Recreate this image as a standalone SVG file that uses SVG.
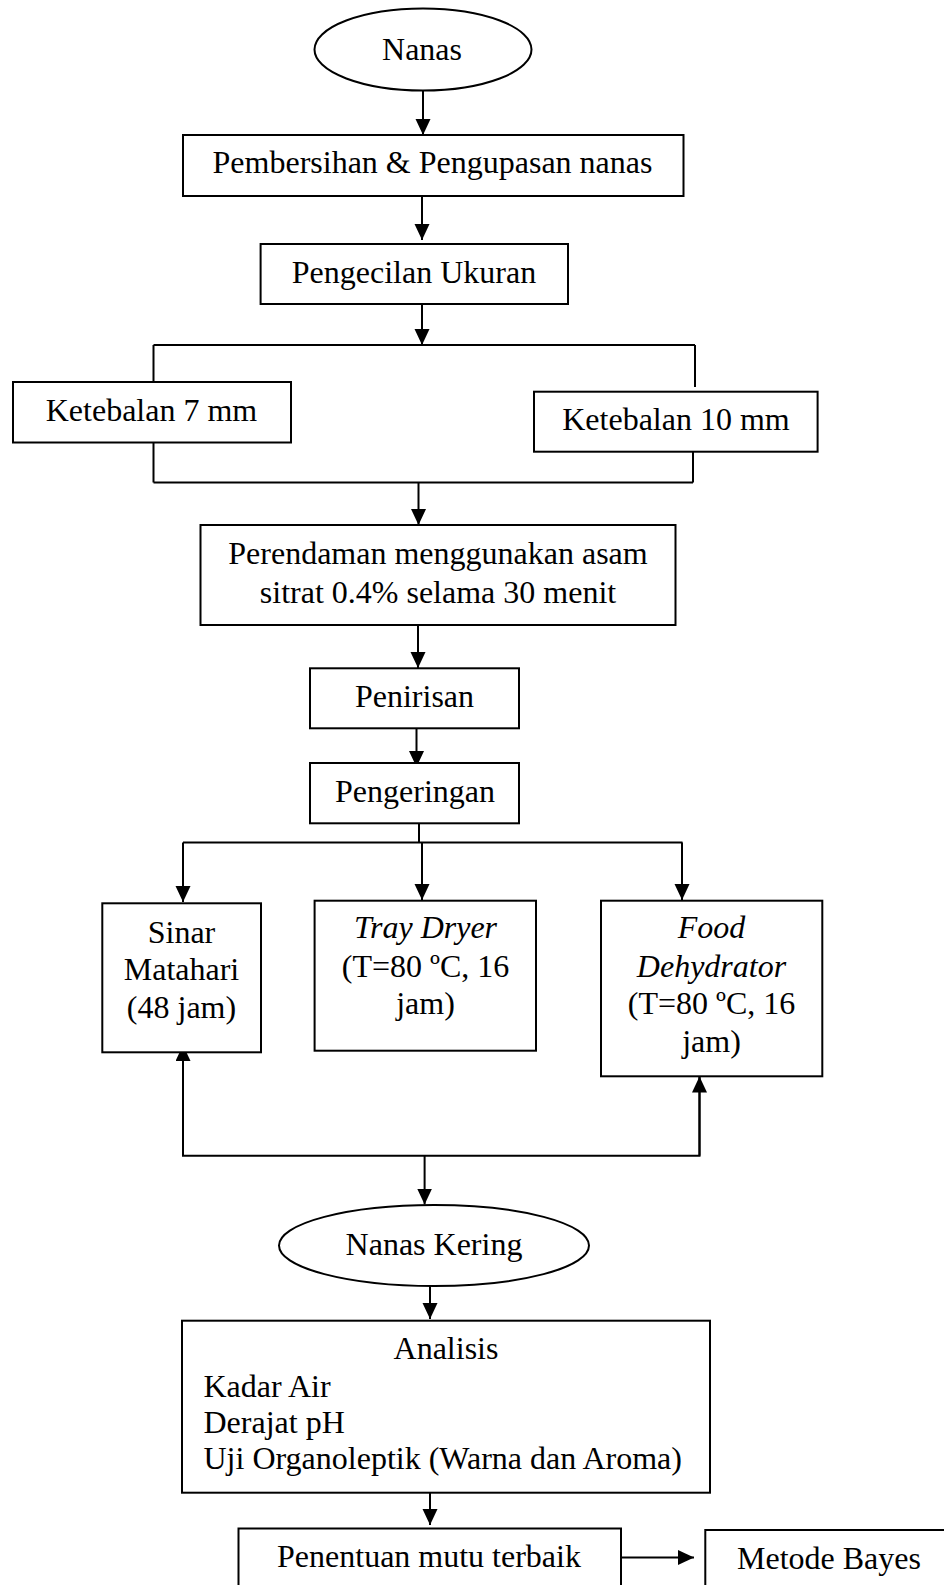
<svg xmlns="http://www.w3.org/2000/svg" width="944" height="1585" viewBox="0 0 944 1585">
<style>
.n{fill:#fff;stroke:#000;stroke-width:2}
.t{font-family:"Liberation Serif","Times New Roman",serif;font-size:32px;fill:#000}
.m{text-anchor:middle}
.i{font-style:italic}
.c line,.c polyline{stroke:#000;stroke-width:2;fill:none}
</style>
<defs>
<marker id="ah" markerWidth="16" markerHeight="16" refX="16" refY="7.5" orient="auto" markerUnits="userSpaceOnUse">
<path d="M0,0 L16,7.5 L0,15 z" fill="#000"/>
</marker>
</defs>
<rect width="944" height="1585" fill="#fff"/>
<g class="c" id="connectors">
<line x1="423" y1="90.5" x2="423" y2="135" marker-end="url(#ah)"/>
<line x1="422" y1="196" x2="422" y2="240" marker-end="url(#ah)"/>
<line x1="422" y1="304" x2="422" y2="345" marker-end="url(#ah)"/>
<line x1="153.5" y1="345" x2="695" y2="345"/>
<line x1="153.5" y1="345" x2="153.5" y2="382"/>
<line x1="695" y1="345" x2="695" y2="387"/>
<line x1="153.5" y1="442.5" x2="153.5" y2="482.5"/>
<line x1="693" y1="450" x2="693" y2="482.5"/>
<line x1="153.5" y1="482.5" x2="693" y2="482.5"/>
<line x1="418.5" y1="482.5" x2="418.5" y2="525" marker-end="url(#ah)"/>
<line x1="418" y1="625" x2="418" y2="668" marker-end="url(#ah)"/>
<line x1="416.5" y1="728.3" x2="416.5" y2="767" marker-end="url(#ah)"/>
<line x1="419" y1="823.3" x2="419" y2="842.5"/>
<line x1="183" y1="842.5" x2="682.5" y2="842.5"/>
<line x1="183" y1="842.5" x2="183" y2="902" marker-end="url(#ah)"/>
<line x1="422" y1="842.5" x2="422" y2="900" marker-end="url(#ah)"/>
<line x1="682" y1="842.5" x2="682" y2="900" marker-end="url(#ah)"/>
<polyline points="183,1045 183,1155.7 699.5,1155.7 699.5,1076.5"/>
<line x1="183" y1="1155.7" x2="183" y2="1045" marker-end="url(#ah)"/>
<line x1="699.5" y1="1155.7" x2="699.5" y2="1076.5" marker-end="url(#ah)"/>
<line x1="424.6" y1="1155.7" x2="424.6" y2="1204.5" marker-end="url(#ah)"/>
<line x1="430" y1="1286" x2="430" y2="1319" marker-end="url(#ah)"/>
<line x1="430" y1="1492.7" x2="430" y2="1525" marker-end="url(#ah)"/>
<line x1="617" y1="1557.5" x2="694" y2="1557.5" marker-end="url(#ah)"/>
</g>
<g id="nanas">
<ellipse class="n" cx="423" cy="49.5" rx="108.5" ry="41"/>
<text class="t m" x="422" y="60">Nanas</text>
</g>
<g id="pembersihan">
<rect class="n" x="183" y="135" width="500.5" height="61"/>
<text class="t m" x="432.5" y="173">Pembersihan &amp; Pengupasan nanas</text>
</g>
<g id="pengecilan">
<rect class="n" x="260.6" y="244" width="307.4" height="60"/>
<text class="t m" x="414" y="283">Pengecilan Ukuran</text>
</g>
<g id="ketebalan7">
<rect class="n" x="13" y="382" width="278" height="60.5"/>
<text class="t m" x="151.5" y="421">Ketebalan 7 mm</text>
</g>
<g id="ketebalan10">
<rect class="n" x="534" y="391.7" width="283.6" height="60"/>
<text class="t m" x="676" y="430">Ketebalan 10 mm</text>
</g>
<g id="perendaman">
<rect class="n" x="200.5" y="525" width="475" height="100"/>
<text class="t m" x="438" y="564">Perendaman menggunakan asam</text>
<text class="t m" x="438" y="603">sitrat 0.4% selama 30 menit</text>
</g>
<g id="penirisan">
<rect class="n" x="310" y="668.3" width="209" height="60"/>
<text class="t m" x="414.5" y="706.7">Penirisan</text>
</g>
<g id="pengeringan">
<rect class="n" x="310" y="763" width="209" height="60.3"/>
<text class="t m" x="415" y="801.7">Pengeringan</text>
</g>
<g id="sinar">
<rect class="n" x="102.3" y="903.3" width="158.7" height="149"/>
<text class="t m" x="181.5" y="943">Sinar</text>
<text class="t m" x="181.5" y="980">Matahari</text>
<text class="t m" x="181.5" y="1017.5">(48 jam)</text>
</g>
<g id="tray">
<rect class="n" x="314.6" y="900.7" width="221.4" height="150"/>
<text class="t m i" x="425.5" y="938.3">Tray Dryer</text>
<text class="t m" x="425.5" y="976.5">(T=80 ºC, 16</text>
<text class="t m" x="425.5" y="1013.5">jam)</text>
</g>
<g id="food">
<rect class="n" x="601" y="900.7" width="221.3" height="175.6"/>
<text class="t m i" x="711.5" y="938.3">Food</text>
<text class="t m i" x="711.5" y="976.5">Dehydrator</text>
<text class="t m" x="711.5" y="1013.5">(T=80 ºC, 16</text>
<text class="t m" x="711.5" y="1051.7">jam)</text>
</g>
<g id="nanas-kering">
<ellipse class="n" cx="434" cy="1245.5" rx="155" ry="40.5"/>
<text class="t m" x="434" y="1255">Nanas Kering</text>
</g>
<g id="analisis">
<rect class="n" x="182" y="1320.7" width="528" height="172"/>
<text class="t m" x="446" y="1359.3">Analisis</text>
<text class="t" x="203.5" y="1396.7">Kadar Air</text>
<text class="t" x="203.5" y="1433.3">Derajat pH</text>
<text class="t" x="203.5" y="1469.3">Uji Organoleptik (Warna dan Aroma)</text>
</g>
<g id="penentuan">
<rect class="n" x="238.5" y="1528.5" width="382.5" height="70"/>
<text class="t m" x="429" y="1567">Penentuan mutu terbaik</text>
</g>
<g id="bayes">
<rect class="n" x="705.3" y="1530" width="250" height="70"/>
<text class="t" x="737" y="1569">Metode Bayes</text>
</g>
</svg>
